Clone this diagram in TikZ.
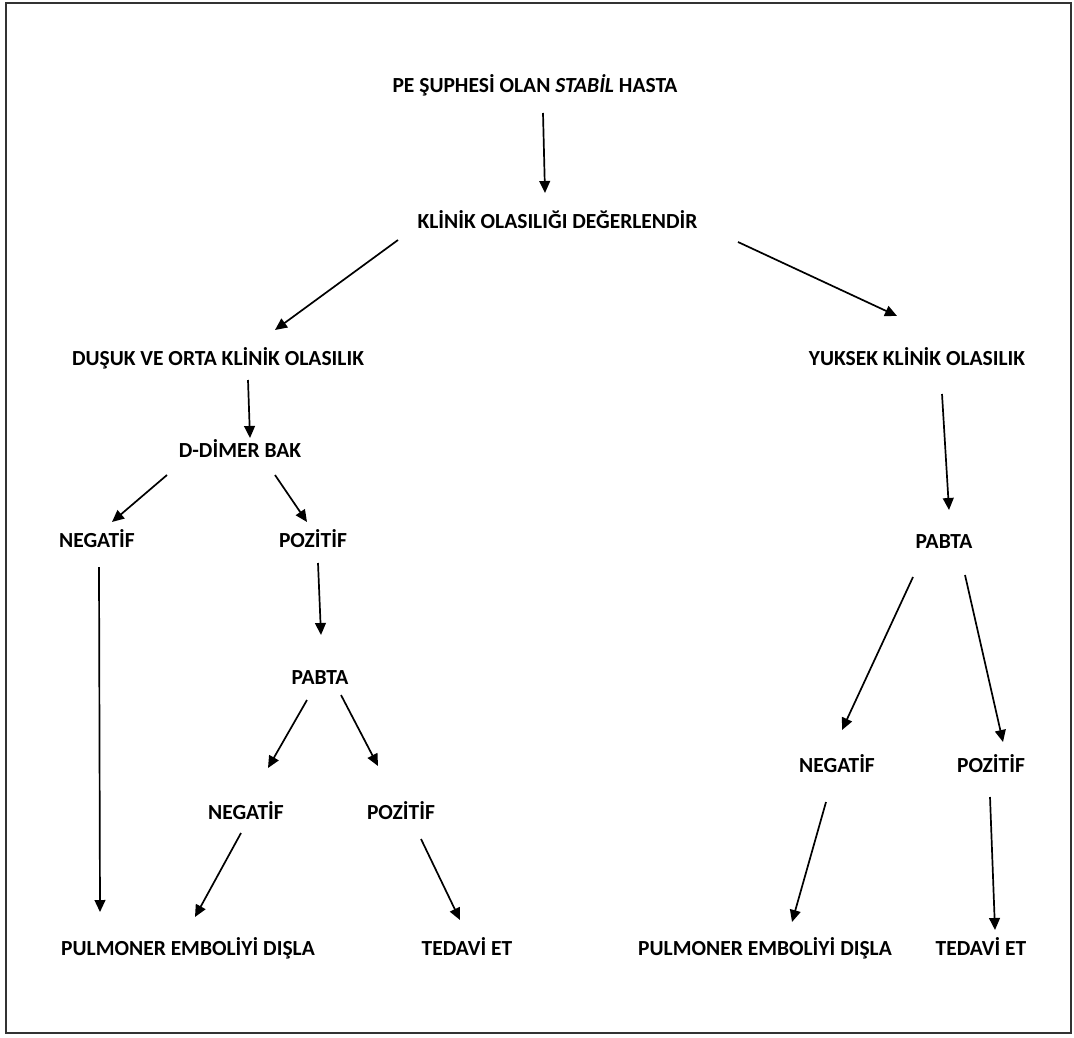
\documentclass[tikz,border=0pt]{standalone}
\usepackage{fontspec}
\setmainfont{Carlito}
\usepackage{tikz}
\usetikzlibrary{arrows.meta, calc}
\definecolor{framegray}{HTML}{333333}

\begin{document}
\begin{tikzpicture}[
    x=0.5pt, y=-0.5pt,
    label/.style={anchor=base, inner sep=0pt, font=\bfseries\fontsize{10.75}{13}\selectfont},
    link/.style={-{Triangle[length=6pt, width=5.4pt]}, line width=0.85pt}
]
    \useasboundingbox (0,0) rectangle (1074,1037);
    \draw[framegray, line width=1.2pt] (6,3) rectangle (1071,1033);

    % top of the tree
    \node[label] (start) at (535,93) {PE ŞUPHESİ OLAN {\itshape STABİL} HASTA};
    \node[label] (klinik) at (557.5,229) {KLİNİK OLASILIĞI DEĞERLENDİR};
    \node[label] (dusuk) at (218,365) {DUŞUK VE ORTA KLİNİK OLASILIK};
    \node[label] (yuksek) at (917,365) {YUKSEK KLİNİK OLASILIK};

    % low / moderate branch
    \node[label] (ddimer) at (240,457) {D-DİMER BAK};
    \node[label] (negL) at (97,547) {NEGATİF};
    \node[label] (posL) at (313,547) {POZİTİF};
    \node[label] (pabL) at (320,684) {PABTA};
    \node[label] (negM) at (246,819) {NEGATİF};
    \node[label] (posM) at (401,819) {POZİTİF};
    \node[label] (pulL) at (188,955) {PULMONER EMBOLİYİ DIŞLA};
    \node[label] (tedL) at (467,955) {TEDAVİ ET};

    % high branch
    \node[label] (pabR) at (944,548) {PABTA};
    \node[label] (negR) at (837,772) {NEGATİF};
    \node[label] (posR) at (991,772) {POZİTİF};
    \node[label] (pulR) at (765,955) {PULMONER EMBOLİYİ DIŞLA};
    \node[label] (tedR) at (981,955) {TEDAVİ ET};

    % arrows
    \draw[link] ([shift={(8,20)}]start.base) -- ([shift={(-12.5,-36)}]klinik.base);
    \draw[link] ([shift={(-159.5,11)}]klinik.base) -- ([shift={(57,-35)}]dusuk.base);
    \draw[link] ([shift={(180.5,13)}]klinik.base) -- ([shift={(-20,-49)}]yuksek.base);
    \draw[link] ([shift={(30,15)}]dusuk.base) -- ([shift={(10,-19)}]ddimer.base);
    \draw[link] ([shift={(-73,18)}]ddimer.base) -- ([shift={(15,-25)}]negL.base);
    \draw[link] ([shift={(35,18)}]ddimer.base) -- ([shift={(-6,-25)}]posL.base);
    \draw[link] ([shift={(5,16)}]posL.base) -- ([shift={(1,-49)}]pabL.base);
    \draw[link] ([shift={(2,20)}]negL.base) -- ([shift={(-88,-43)}]pulL.base);
    \draw[link] ([shift={(-13,16)}]pabL.base) -- ([shift={(22,-51)}]negM.base);
    \draw[link] ([shift={(21,11)}]pabL.base) -- ([shift={(-23,-53)}]posM.base);
    \draw[link] ([shift={(-5,14)}]negM.base) -- ([shift={(7,-38)}]pulL.base);
    \draw[link] ([shift={(20,20)}]posM.base) -- ([shift={(-7,-35)}]tedL.base);
    \draw[link] ([shift={(25,29)}]yuksek.base) -- ([shift={(5,-38)}]pabR.base);
    \draw[link] ([shift={(-31,29)}]pabR.base) -- ([shift={(5,-42)}]negR.base);
    \draw[link] ([shift={(21,27)}]pabR.base) -- ([shift={(12,-30)}]posR.base);
    \draw[link] ([shift={(-11,30)}]negR.base) -- ([shift={(27,-33)}]pulR.base);
    \draw[link] ([shift={(-1,25)}]posR.base) -- ([shift={(14,-25)}]tedR.base);
\end{tikzpicture}
\end{document}
